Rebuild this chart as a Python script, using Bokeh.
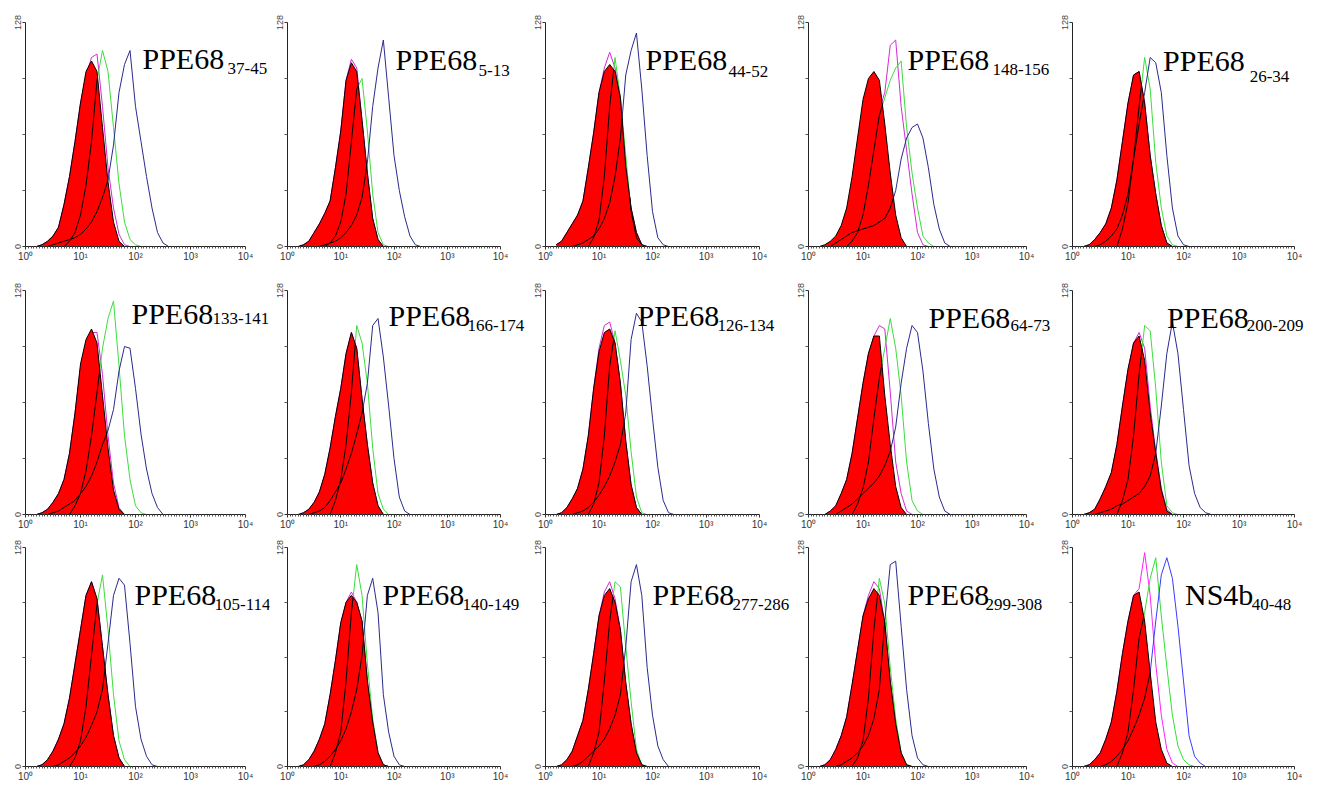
import math
from bokeh.plotting import figure
from bokeh.models import Range1d, FixedTicker, Label
from bokeh.layouts import column, row
from bokeh.embed import file_html
from bokeh.resources import INLINE

# ---------------- data (counts) ----------------
LOG_X = [0.2, 0.3, 0.4, 0.5, 0.6, 0.7, 0.8, 0.9, 1.0, 1.1, 1.2, 1.3, 1.4,
         1.5, 1.6, 1.7, 1.8, 1.9, 2.0, 2.1, 2.2, 2.3, 2.4, 2.5, 2.6]

NAMES = ["PPE68"] * 14 + ["NS4b"]
SUBS = ["37-45", "5-13", "44-52", "148-156", "26-34",
        "133-141", "166-174", "126-134", "64-73", "200-209",
        "105-114", "140-149", "277-286", "299-308", "40-48"]

RED = [
    [0,1,3,6,11,24,40,60,82,100,106,100,68,37,14,3,0,0,0,0,0,0,0,0,0],
    [0,1,3,8,13,19,26,45,66,95,105,100,72,42,16,4,0,0,0,0,0,0,0,0,0],
    [1,3,8,13,18,26,45,65,88,100,104,100,85,46,22,8,1,0,0,0,0,0,0,0,0],
    [0,1,3,6,12,22,40,62,84,96,100,95,70,42,18,5,0,0,0,0,0,0,0,0,0],
    [0,1,4,8,13,22,38,60,82,98,100,82,52,30,12,2,0,0,0,0,0,0,0,0,0],
    [0,1,3,7,12,20,35,58,86,100,106,98,68,38,14,3,0,0,0,0,0,0,0,0,0],
    [0,1,3,7,13,23,38,56,72,92,104,95,66,40,18,5,0,0,0,0,0,0,0,0,0],
    [0,1,4,9,15,26,45,72,93,104,106,98,75,42,17,4,0,0,0,0,0,0,0,0,0],
    [0,0,2,5,12,20,35,55,75,92,102,102,68,40,16,4,0,0,0,0,0,0,0,0,0],
    [0,1,3,9,16,24,40,62,83,98,102,88,58,35,14,2,0,0,0,0,0,0,0,0,0],
    [0,1,4,9,16,25,40,60,80,100,108,98,70,42,18,5,0,0,0,0,0,0,0,0,0],
    [0,1,4,9,16,25,42,62,84,96,100,96,85,50,26,8,1,0,0,0,0,0,0,0,0],
    [0,1,4,9,18,27,45,66,88,100,104,96,80,49,25,8,1,0,0,0,0,0,0,0,0],
    [0,1,4,10,18,29,48,68,88,98,104,100,84,50,25,8,1,0,0,0,0,0,0,0,0],
    [0,1,4,8,16,26,44,66,85,100,102,85,55,26,10,2,0,0,0,0,0,0,0,0,0],
]

MAGENTA = [
    [0,1,3,6,11,24,40,60,82,98,108,110,80,45,22,7,1,0,0,0,0,0,0,0,0],
    [0,1,3,8,13,19,26,45,66,95,107,102,72,42,16,4,0,0,0,0,0,0,0,0,0],
    [1,3,8,13,18,26,45,65,88,102,111,102,85,46,22,8,1,0,0,0,0,0,0,0,0],
    [0,0,0,0,0,0,5,12,25,45,65,78,88,115,118,80,55,30,8,1,0,0,0,0,0],
    [0,1,4,8,13,22,38,60,82,98,100,82,52,30,12,2,0,0,0,0,0,0,0,0,0],
    [0,1,3,7,12,20,35,58,84,98,104,104,80,45,18,4,0,0,0,0,0,0,0,0,0],
    [0,1,3,7,13,23,38,56,72,92,104,95,66,40,18,5,0,0,0,0,0,0,0,0,0],
    [0,1,4,9,15,26,45,72,95,108,110,98,75,42,17,4,0,0,0,0,0,0,0,0,0],
    [0,0,2,5,12,20,35,55,75,92,102,108,106,70,30,12,2,0,0,0,0,0,0,0,0],
    [0,1,3,9,16,24,40,62,83,98,104,95,62,36,15,3,0,0,0,0,0,0,0,0,0],
    [0,1,4,9,16,25,40,60,80,100,108,98,70,42,18,5,0,0,0,0,0,0,0,0,0],
    [0,1,4,9,16,25,42,62,84,96,102,96,85,50,26,8,1,0,0,0,0,0,0,0,0],
    [0,1,4,9,18,27,45,66,88,102,108,98,80,49,25,8,1,0,0,0,0,0,0,0,0],
    [0,1,4,10,18,29,48,68,88,100,108,104,84,50,25,8,1,0,0,0,0,0,0,0,0],
    [0,1,4,8,16,26,44,66,85,100,104,125,100,60,30,10,2,0,0,0,0,0,0,0,0],
]

GREEN = [
    [0,0,0,0,0,0,3,8,18,35,60,95,112,100,68,36,14,4,1,0,0,0,0,0,0],
    [0,0,0,0,0,0,2,6,14,30,60,90,96,66,30,8,1,0,0,0,0,0,0,0,0],
    [0,0,0,0,0,0,0,5,15,40,80,108,85,52,20,5,1,0,0,0,0,0,0,0,0],
    [0,0,0,0,0,0,3,8,18,35,55,75,85,95,102,106,68,42,22,6,2,0,0,0,0],
    [0,0,0,0,0,0,0,10,25,50,80,108,90,48,22,6,1,0,0,0,0,0,0,0,0],
    [0,0,0,0,0,0,0,5,12,25,45,70,95,112,122,85,45,20,5,1,0,0,0,0,0],
    [0,0,0,0,0,0,0,8,20,40,70,108,98,75,38,12,3,0,0,0,0,0,0,0,0],
    [0,0,0,0,0,0,0,6,18,45,85,105,88,68,36,10,1,0,0,0,0,0,0,0,0],
    [0,0,0,0,0,0,0,6,15,30,55,78,95,112,95,68,30,8,2,0,0,0,0,0,0],
    [0,0,0,0,0,0,0,8,20,45,80,108,105,72,30,5,1,0,0,0,0,0,0,0,0],
    [0,0,0,0,0,0,0,5,15,35,65,95,112,80,42,15,4,0,0,0,0,0,0,0,0],
    [0,0,0,0,0,0,0,8,20,50,90,118,100,60,28,8,1,0,0,0,0,0,0,0,0],
    [0,0,0,0,0,0,0,8,20,50,85,108,105,70,38,10,1,0,0,0,0,0,0,0,0],
    [0,0,0,0,0,0,0,5,15,40,80,110,95,58,28,8,1,0,0,0,0,0,0,0,0],
    [0,0,0,0,0,0,0,8,20,45,75,90,110,122,88,58,30,12,4,1,0,0,0,0,0],
]

BLUE = [
    [0,0,0,1,2,3,4,5,7,10,14,20,28,38,58,88,104,112,80,60,40,22,8,2,0],
    [0,0,0,0,0,1,2,3,5,8,12,18,28,48,80,102,118,85,52,32,17,6,1,0,0],
    [0,0,0,0,1,2,4,6,10,16,25,40,62,98,112,122,90,52,20,5,1,0,0,0,0],
    [0,0,0,2,4,6,8,9,10,11,12,14,16,22,32,50,62,68,70,62,45,24,10,2,0],
    [0,0,0,1,3,6,10,18,30,50,70,88,108,105,88,52,22,6,1,0,0,0,0,0,0],
    [0,0,0,1,2,4,6,8,12,16,22,30,40,48,60,82,96,95,72,46,26,12,4,0,0],
    [0,0,0,1,2,4,8,13,18,26,35,46,58,75,108,112,90,62,32,10,2,0,0,0,0],
    [0,0,0,0,1,2,4,7,11,16,22,30,40,58,100,115,110,85,55,27,8,1,0,0,0],
    [0,0,0,0,2,4,6,9,12,15,18,22,28,36,50,75,95,108,104,82,52,26,10,2,0],
    [0,0,0,1,2,3,5,6,8,10,12,16,22,35,62,92,110,92,60,28,12,4,1,0,0],
    [0,0,0,0,1,3,5,8,12,17,24,32,45,72,100,110,106,72,35,16,6,1,0,0,0],
    [0,0,0,0,1,3,6,10,15,22,32,45,65,100,110,90,42,20,6,1,0,0,0,0,0],
    [0,0,0,0,1,3,6,9,12,16,22,30,42,70,108,118,100,58,30,12,4,0,0,0,0],
    [0,0,0,0,1,3,5,8,12,18,28,45,85,118,120,82,45,18,5,1,0,0,0,0,0],
    [0,0,0,0,1,3,6,10,15,22,30,40,55,85,112,122,110,82,50,18,6,2,0,0,0],
]

X_TICKS = [1, 10, 100, 1000, 10000]
X_TICK_LABELS = ["10\u2070", "10\u00b9", "10\u00b2", "10\u00b3", "10\u2074"]
Y_TICKS = [0, 128]

# ---------------- layout / style ----------------
FIG_W = [270, 258, 263, 264, 263]
BORDER_L = [25, 17, 17, 17, 17]
BORDER_R = 1
DECADE_W = [220, 213, 214, 218, 222]      # px spanned by 10^0..10^4
FIG_H = [276, 258, 250]
BORDER_T = [22, 14, 13]
BORDER_B = [30, 20, 15]

# reference frame geometry (image px) used to place the panel titles
REF_COL_LEFT = [25, 287, 545, 808, 1072]
REF_COL_W = [220, 213, 214, 218, 223]
REF_ROW_BOTTOM = [247, 515, 771]
REF_ROW_H = [225, 225, 224]
LABEL_PX = [
    (142, 58, 227, 68), (395, 59, 478, 70), (645, 59, 728, 71), (907, 59, 992, 69), (1163, 60, 1250, 76),
    (131, 313, 212, 318), (388, 315, 467, 325), (637, 315, 717, 325), (928, 317, 1010, 325), (1167, 317, 1247, 325),
    (134, 595, 214, 605), (382, 595, 462, 605), (652, 595, 732, 605), (907, 595, 985, 605), (1185, 595, 1252, 605),
]

COL_STD = dict(magenta="#d42ad4", green="#3ddc3d", blue="#2a2a8c")
COL_LAST = dict(magenta="#ff20ff", green="#33e033", blue="#3a3aff")


def trimmed(xs, ys):
    nz = [i for i, v in enumerate(ys) if v > 0]
    if not nz:
        return [], []
    a = max(nz[0] - 1, 0)
    b = min(nz[-1] + 2, len(ys))
    return xs[a:b], ys[a:b]


def inner_pieces(lx, c, r):
    pieces, cur = [], []
    for i in range(len(lx) - 1):
        d0 = c[i] - r[i]
        d1 = c[i + 1] - r[i + 1]
        x0, x1, y0, y1 = lx[i], lx[i + 1], c[i], c[i + 1]
        if d0 < 0:
            if not cur:
                cur = [(x0, y0)]
            if d1 < 0:
                cur.append((x1, y1))
            else:
                t = d0 / (d0 - d1)
                cur.append((x0 + t * (x1 - x0), y0 + t * (y1 - y0)))
                pieces.append(cur)
                cur = []
        elif d1 < 0:
            t = d0 / (d0 - d1)
            cur = [(x0 + t * (x1 - x0), y0 + t * (y1 - y0)), (x1, y1)]
    if cur:
        pieces.append(cur)
    xs = [[10 ** p[0] for p in pc] for pc in pieces]
    ys = [[p[1] for p in pc] for pc in pieces]
    return xs, ys


minor_x = [10 ** (k / 20) for k in range(1, 80) if k % 20 != 0]

rows = []
for r in range(3):
    figs = []
    for c in range(5):
        k = r * 5 + c
        frame_w = FIG_W[c] - BORDER_L[c] - BORDER_R
        x_end = 10 ** (4.0 * frame_w / DECADE_W[c])
        p = figure(width=FIG_W[c], height=FIG_H[r],
                   x_axis_type="log", x_range=Range1d(1, x_end), y_range=Range1d(0, 128),
                   output_backend="svg", toolbar_location=None,
                   min_border_left=BORDER_L[c], min_border_right=BORDER_R,
                   min_border_top=BORDER_T[r], min_border_bottom=BORDER_B[r])
        p.outline_line_color = None
        p.xgrid.visible = False
        p.ygrid.visible = False
        p.background_fill_color = "white"
        p.border_fill_color = "white"

        xa = p.xaxis[0]
        xa.bounds = (1, 10000)
        xa.ticker = FixedTicker(ticks=X_TICKS, minor_ticks=minor_x)
        xa.major_label_overrides = {t: s for t, s in zip(X_TICKS, X_TICK_LABELS)}
        xa.major_label_text_font = "Liberation Sans"
        xa.major_label_text_font_size = "10px"
        xa.major_label_text_color = "#333333"
        xa.major_label_standoff = 1
        xa.major_tick_out = 3
        xa.major_tick_in = 0
        xa.minor_tick_out = 2
        xa.minor_tick_in = 0
        xa.axis_line_color = "#222222"
        xa.major_tick_line_color = "#333333"
        xa.minor_tick_line_color = "#555555"

        ya = p.yaxis[0]
        ya.ticker = FixedTicker(ticks=Y_TICKS, minor_ticks=[32, 64, 96])
        ya.major_label_orientation = "parallel"
        ya.major_label_text_font = "Liberation Sans"
        ya.major_label_text_font_size = "9px"
        ya.major_label_text_color = "#444444"
        ya.major_label_standoff = 2
        ya.major_tick_out = 3
        ya.major_tick_in = 0
        ya.minor_tick_out = 3
        ya.minor_tick_in = 0
        ya.axis_line_color = "#222222"
        ya.major_tick_line_color = "#333333"
        ya.minor_tick_line_color = "#555555"

        cols = COL_LAST if k == 14 else COL_STD
        X = [10 ** v for v in LOG_X]

        for key, data in (("magenta", MAGENTA[k]), ("green", GREEN[k]), ("blue", BLUE[k])):
            tx, ty = trimmed(X, data)
            p.line(tx, ty, line_color=cols[key], line_width=1)

        rx, ry = trimmed(X, RED[k])
        p.varea(x=rx, y1=[0] * len(rx), y2=ry, fill_color="#ff0000")
        p.line(rx, ry, line_color="black", line_width=1)

        for data in (GREEN[k], BLUE[k]):
            bx, by = inner_pieces(LOG_X, data, RED[k])
            if bx:
                p.multi_line(bx, by, line_color="black", line_width=1)

        mx, my, sx, sy = LABEL_PX[k]

        def to_data(px, py):
            lx = (px - REF_COL_LEFT[c]) / REF_COL_W[c] * 4
            yy = (REF_ROW_BOTTOM[r] - py) / REF_ROW_H[r] * 128
            return 10 ** lx, yy

        x1, y1 = to_data(mx, my)
        x2, y2 = to_data(sx, sy)
        p.add_layout(Label(x=x1, y=y1, text=NAMES[k], text_font="Liberation Serif",
                           text_font_size="30px", text_baseline="alphabetic",
                           text_align="left", text_color="black"))
        p.add_layout(Label(x=x2, y=y2, text=SUBS[k], text_font="Liberation Serif",
                           text_font_size="17px", text_baseline="alphabetic",
                           text_align="left", text_color="black"))
        figs.append(p)
    rows.append(row(*figs, spacing=0))

layout = column(*rows, spacing=0)
open("out.html", "w").write(file_html(layout, INLINE))
